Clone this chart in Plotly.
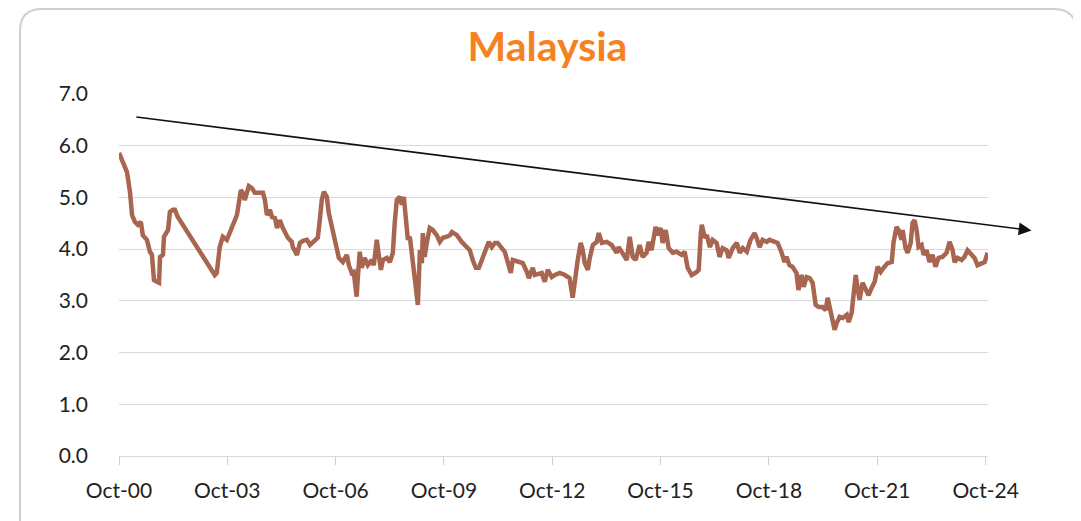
import plotly.graph_objects as go

title_text = "Malaysia"

dates = [
    "2000-10-01", "2000-11-11", "2000-12-21", "2001-01-21", "2001-02-10", "2001-03-10",
    "2001-04-10", "2001-05-10", "2001-05-30", "2001-07-10", "2001-08-10", "2001-08-30",
    "2001-09-20", "2001-10-20", "2001-11-10", "2001-11-20", "2001-12-20", "2001-12-30",
    "2002-01-29", "2002-02-09", "2002-02-28", "2002-03-29", "2002-04-19", "2002-05-19",
    "2003-05-28", "2003-06-17", "2003-07-17", "2003-08-17", "2003-09-27", "2003-11-17",
    "2004-01-07", "2004-02-16", "2004-03-06", "2004-03-26", "2004-05-06", "2004-06-06",
    "2004-07-06", "2004-09-26", "2004-10-16", "2004-11-05", "2004-12-06", "2004-12-26",
    "2005-01-26", "2005-02-15", "2005-03-15", "2005-04-15", "2005-06-05", "2005-07-15",
    "2005-07-25", "2005-09-05", "2005-10-05", "2005-11-05", "2005-12-15", "2006-01-15",
    "2006-02-24", "2006-04-04", "2006-04-24", "2006-05-14", "2006-06-04", "2006-07-04",
    "2006-07-24", "2006-08-24", "2006-09-14", "2006-10-14", "2006-11-03", "2006-12-13",
    "2007-01-23", "2007-02-12", "2007-03-13", "2007-04-02", "2007-05-02", "2007-05-12",
    "2007-06-02", "2007-06-22", "2007-07-22", "2007-08-22", "2007-10-02", "2007-10-22",
    "2007-11-22", "2007-12-02", "2008-01-02", "2008-01-22", "2008-03-02", "2008-04-02",
    "2008-05-02", "2008-05-21", "2008-06-11", "2008-07-11", "2008-08-01", "2008-08-21",
    "2008-09-11", "2008-10-01", "2008-10-21", "2008-11-11", "2008-11-30", "2008-12-30",
    "2009-01-10", "2009-01-31", "2009-02-20", "2009-03-01", "2009-03-20", "2009-04-10",
    "2009-05-10", "2009-06-10", "2009-07-20", "2009-08-20", "2009-09-20", "2009-10-30",
    "2009-11-30", "2009-12-20", "2010-02-09", "2010-03-29", "2010-04-29", "2010-06-19",
    "2010-07-19", "2010-08-19", "2010-09-19", "2010-10-28", "2010-12-08", "2010-12-28",
    "2011-01-28", "2011-02-28", "2011-03-28", "2011-05-08", "2011-06-08", "2011-07-08",
    "2011-08-08", "2011-08-28", "2011-10-17", "2011-12-07", "2012-01-17", "2012-02-07",
    "2012-03-17", "2012-04-07", "2012-06-16", "2012-07-16", "2012-08-16", "2012-09-26",
    "2012-10-26", "2012-12-16", "2013-02-05", "2013-03-25", "2013-04-25", "2013-05-15",
    "2013-06-15", "2013-07-15", "2013-08-05", "2013-08-25", "2013-09-25", "2013-10-15",
    "2013-11-15", "2013-12-24", "2014-01-14", "2014-02-14", "2014-04-04", "2014-05-24",
    "2014-07-14", "2014-08-04", "2014-09-14", "2014-10-24", "2014-11-23", "2014-12-23",
    "2015-01-23", "2015-03-03", "2015-04-03", "2015-05-13", "2015-06-02", "2015-07-02",
    "2015-08-12", "2015-09-02", "2015-10-02", "2015-10-22", "2015-11-22", "2015-12-22",
    "2016-02-01", "2016-03-11", "2016-05-01", "2016-06-01", "2016-07-01", "2016-08-11",
    "2016-10-01", "2016-10-21", "2016-11-11", "2016-11-21", "2016-12-21", "2017-01-11",
    "2017-02-11", "2017-03-11", "2017-04-20", "2017-05-20", "2017-06-20", "2017-07-30",
    "2017-08-20", "2017-09-30", "2017-11-10", "2017-12-10", "2018-01-10", "2018-02-19",
    "2018-03-29", "2018-05-09", "2018-05-29", "2018-06-29", "2018-07-29", "2018-09-08",
    "2018-10-08", "2018-11-18", "2018-12-28", "2019-02-07", "2019-03-07", "2019-03-27",
    "2019-04-27", "2019-05-27", "2019-07-07", "2019-07-27", "2019-08-27", "2019-09-17",
    "2019-10-17", "2019-11-17", "2019-12-17", "2020-01-17", "2020-02-17", "2020-03-27",
    "2020-04-27", "2020-05-17", "2020-06-17", "2020-07-06", "2020-07-26", "2020-08-16",
    "2020-09-16", "2020-10-16", "2020-11-26", "2020-12-16", "2021-01-15", "2021-02-05",
    "2021-02-25", "2021-03-15", "2021-04-05", "2021-05-05", "2021-06-05", "2021-07-05",
    "2021-08-05", "2021-09-05", "2021-10-05", "2021-11-05", "2021-12-05", "2022-01-15",
    "2022-02-24", "2022-03-14", "2022-04-14", "2022-05-04", "2022-06-04", "2022-06-14",
    "2022-07-14", "2022-08-04", "2022-09-04", "2022-09-23", "2022-10-13", "2022-11-03",
    "2022-11-23", "2022-12-23", "2023-01-13", "2023-02-12", "2023-03-13", "2023-04-13",
    "2023-05-13", "2023-06-13", "2023-07-22", "2023-09-02", "2023-10-02", "2023-11-02",
    "2023-11-22", "2023-12-22", "2024-02-01", "2024-03-01", "2024-04-01", "2024-05-11",
    "2024-06-11", "2024-07-11", "2024-08-21", "2024-09-21", "2024-10-21",
]

yields = [
    5.86, 5.67, 5.49, 5.09, 4.66, 4.53,
    4.47, 4.53, 4.27, 4.18, 3.95, 3.89,
    3.40, 3.37, 3.35, 3.85, 3.89, 4.24,
    4.33, 4.37, 4.72, 4.76, 4.76, 4.62,
    3.50, 3.54, 4.04, 4.24, 4.18, 4.43,
    4.66, 5.14, 5.09, 4.95, 5.22, 5.18,
    5.09, 5.09, 4.95, 4.66, 4.76, 4.62,
    4.60, 4.41, 4.56, 4.41, 4.22, 4.14,
    4.04, 3.89, 4.12, 4.16, 4.18, 4.08,
    4.14, 4.22, 4.56, 4.95, 5.11, 5.01,
    4.70, 4.41, 4.31, 4.04, 3.83, 3.75,
    3.89, 3.69, 3.54, 3.56, 3.08, 3.40,
    3.95, 3.64, 3.83, 3.69, 3.79, 3.69,
    4.18, 4.02, 3.60, 3.79, 3.83, 3.75,
    3.93, 4.51, 4.95, 5.01, 4.86, 5.01,
    4.66, 4.18, 4.24, 3.85, 3.54, 3.15,
    2.92, 3.98, 3.73, 4.31, 3.85, 4.12,
    4.41, 4.37, 4.27, 4.14, 4.22, 4.24,
    4.27, 4.33, 4.27, 4.14, 4.08, 3.98,
    3.79, 3.64, 3.64, 3.83, 4.08, 4.14,
    4.04, 4.12, 4.12, 4.02, 3.95, 3.75,
    3.54, 3.79, 3.75, 3.73, 3.56, 3.44,
    3.64, 3.50, 3.54, 3.37, 3.60, 3.46,
    3.50, 3.54, 3.50, 3.44, 3.06, 3.40,
    3.79, 4.12, 3.98, 3.73, 3.60, 3.83,
    4.08, 4.14, 4.31, 4.12, 4.14, 4.08,
    3.93, 4.04, 3.93, 3.79, 4.24, 3.85,
    3.79, 4.08, 3.85, 3.93, 4.14, 3.98,
    4.43, 4.27, 4.41, 4.12, 4.37, 4.02,
    3.93, 3.95, 3.89, 3.95, 3.64, 3.50,
    3.56, 3.60, 4.31, 4.47, 4.22, 4.27,
    4.04, 4.18, 4.12, 3.85, 4.02, 3.98,
    3.83, 4.02, 4.12, 3.93, 4.02, 3.95,
    4.18, 4.31, 4.22, 4.04, 4.18, 4.14,
    4.18, 4.14, 4.12, 3.93, 3.75, 3.85,
    3.69, 3.66, 3.54, 3.21, 3.50, 3.27,
    3.46, 3.44, 3.35, 2.92, 2.88, 2.88,
    2.82, 3.06, 2.82, 2.67, 2.44, 2.57,
    2.69, 2.67, 2.73, 2.59, 2.77, 3.15,
    3.50, 3.25, 3.02, 3.35, 3.21, 3.11,
    3.25, 3.37, 3.66, 3.56, 3.64, 3.73,
    3.75, 4.12, 4.43, 4.37, 4.18, 4.37,
    4.02, 3.93, 4.12, 4.51, 4.56, 4.37,
    4.04, 4.08, 3.89, 3.98, 3.75, 3.89,
    3.66, 3.83, 3.85, 3.93, 4.14, 3.98,
    3.75, 3.83, 3.79, 3.85, 3.98, 3.89,
    3.83, 3.69, 3.73, 3.75, 3.93,
]

tick_dates = ["2000-10-01", "2003-10-01", "2006-10-01", "2009-10-01", "2012-10-01",
              "2015-10-01", "2018-10-01", "2021-10-01", "2024-10-01"]
tick_labels = ["Oct-00", "Oct-03", "Oct-06", "Oct-09", "Oct-12",
               "Oct-15", "Oct-18", "Oct-21", "Oct-24"]
y_ticks = [0, 1, 2, 3, 4, 5, 6, 7]

# trend arrow endpoints (date, value)
trend_start = ("2001-03-10", 6.56)
trend_end = ("2026-01-08", 4.36)

W, H = 1081, 521
ML, MR, MT, MB = 111, 101, 86, 73
PW, PH = W - ML - MR, H - MT - MB


def px_x(p):
    return (p - ML) / PW


def px_y(p):
    return (H - MB - p) / PH


# rounded frame path (paper coords)
fl, fr, ft, fb, rad = 12, 1068, 1, 540, 22
frame_path = (
    f"M {px_x(fl)},{px_y(fb)} L {px_x(fl)},{px_y(ft + rad)} "
    f"Q {px_x(fl)},{px_y(ft)} {px_x(fl + rad)},{px_y(ft)} "
    f"L {px_x(fr - rad)},{px_y(ft)} "
    f"Q {px_x(fr)},{px_y(ft)} {px_x(fr)},{px_y(ft + rad)} "
    f"L {px_x(fr)},{px_y(fb)}"
)

fig = go.Figure()
fig.add_trace(go.Scatter(
    x=dates, y=yields, mode="lines",
    line=dict(color="#a8654f", width=4.5),
    hoverinfo="x+y", showlegend=False,
))

fig.add_annotation(
    x=trend_end[0], y=trend_end[1], xref="x", yref="y",
    ax=trend_start[0], ay=trend_start[1], axref="x", ayref="y",
    text="", showarrow=True, arrowhead=2, arrowsize=1.6, arrowwidth=1.6,
    arrowcolor="#111111", standoff=0,
)

fig.update_layout(
    width=W, height=H,
    margin=dict(l=ML, r=MR, t=MT, b=MB, pad=0),
    paper_bgcolor="white", plot_bgcolor="white",
    font=dict(family="Lato, sans-serif", size=21, color="#222222"),
    title=dict(
        text=f"<b>{title_text}</b>", x=539.5 / W, xref="container", xanchor="center",
        y=1 - 39 / H, yref="container", yanchor="middle",
        font=dict(family="Lato, sans-serif", size=41, color="#f5821f"),
    ),
    shapes=[dict(type="path", path=frame_path, xref="paper", yref="paper",
                 line=dict(color="#d0d0d0", width=2), layer="below")],
    xaxis=dict(
        type="date", range=["2000-10-01", "2024-10-25"],
        tickvals=tick_dates, ticktext=tick_labels,
        ticks="outside", ticklen=8, tickcolor="#d0d0d0", tickwidth=1,
        showline=True, linecolor="#d9d9d9", linewidth=1,
        showgrid=False, zeroline=False, ticklabelstandoff=8,
    ),
    yaxis=dict(
        range=[0, 7], tickvals=y_ticks, tickformat=".1f",
        showgrid=True, gridcolor="#d9d9d9", gridwidth=1,
        zeroline=False, showline=False, ticks="", ticklabelstandoff=30,
    ),
)

fig.write_html("out.html")
